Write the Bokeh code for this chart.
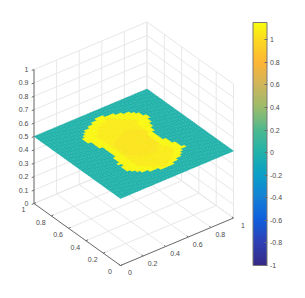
import numpy as np
from bokeh.plotting import figure
from bokeh.models import ColumnDataSource, ColorBar, FixedTicker, LinearColorMapper, Range1d
from bokeh.core.properties import value
from bokeh.embed import file_html
from bokeh.resources import INLINE

# ---- data -----------------------------------------------------------------
grid_n = 40
plane_z = 0.5
first_row = 5
# one entry per y row, column ranges [start, stop) of each colour level
outer_start = [18,15,13,12,11,10,10,10,11,10,11,11,11,12,12,12,12,12,12,11,11,11,11,10,10,10,11,12,13,15,17,19]
outer_stop  = [23,25,27,28,29,31,30,30,30,29,29,29,28,28,28,28,28,29,29,30,30,31,31,32,32,31,31,30,29,27,25,22]
mid_start   = [0,19,17,16,15,14,14,14,14,14,14,14,14,14,14,14,14,14,14,14,14,14,14,14,14,15,16,17,19,21,0,0]
mid_stop    = [0,22,24,25,26,27,27,27,27,26,26,26,26,26,26,26,26,26,26,27,27,27,27,28,28,27,26,25,24,23,0,0]
core_start  = [0,0,0,0,0,0,0,0,19,17,16,15,15,15,15,15,15,15,16,17,19,21,0,0,0,0,0,0,0,0,0,0]
core_stop   = [0,0,0,0,0,0,0,0,23,24,25,26,26,26,26,26,26,27,27,26,25,24,0,0,0,0,0,0,0,0,0,0]
level_base, level_outer, level_mid, level_core = 0.0, 1.125, 1.085, 1.04

xy_ticks = [0, 0.2, 0.4, 0.6, 0.8, 1]
xy_labels = ["0", "0.2", "0.4", "0.6", "0.8", "1"]
z_ticks = [0, .1, .2, .3, .4, .5, .6, .7, .8, .9, 1]
z_labels = ["0", "0.1", "0.2", "0.3", "0.4", "0.5", "0.6", "0.7", "0.8", "0.9", "1"]
cbar_ticks = [-1, -.8, -.6, -.4, -.2, 0, .2, .4, .6, .8, 1]
cbar_labels = ["-1", "-0.8", "-0.6", "-0.4", "-0.2", "0", "0.2", "0.4", "0.6", "0.8", "1"]
cbar_low, cbar_high = -1.0, 1.153
cmap_values = [-1, -.8, -.6, -.4, -.2, 0, .2, .4, .6, .8, 1, 1.153]
cmap_colors = ["#352A87", "#2F3FB5", "#0F5EDD", "#1480D6", "#0A9FC8", "#20B2AA", "#4DB88F", "#9ABC6C", "#CDB55C", "#FDB535", "#FCD820", "#F9FB0E"]

# ---- values grid ----------------------------------------------------------
vals = np.full((grid_n, grid_n), level_base)
for i in range(len(outer_start)):
    j = first_row + i
    vals[j, outer_start[i]:outer_stop[i]] = level_outer
    vals[j, mid_start[i]:mid_stop[i]] = level_mid
    vals[j, core_start[i]:core_stop[i]] = level_core

# ---- view projection (page pixels) ----------------------------------------
ORG = np.array([120.0, 265.0])
EX = np.array([113.0, -47.5])
EY = np.array([-86.5, -62.0])
EZ = np.array([0.0, -134.0])
def proj(x, y, z):
    x, y, z = np.asarray(x, float), np.asarray(y, float), np.asarray(z, float)
    return ORG[0] + EX[0]*x + EY[0]*y + EZ[0]*z, ORG[1] + EX[1]*x + EY[1]*y + EZ[1]*z

def rgb(h):
    return [int(h[i:i+2], 16) for i in (1, 3, 5)]
stops = np.array([rgb(s) for s in cmap_colors], float)
t = np.linspace(cbar_low, cbar_high, 128)
palette = ["#%02x%02x%02x" % tuple(int(round(np.interp(u, cmap_values, stops[:, c]))) for c in range(3)) for u in t]
mapper = LinearColorMapper(palette=palette, low=cbar_low, high=cbar_high)

p = figure(width=289, height=282, x_range=Range1d(0, 289), y_range=Range1d(282, 0),
           output_backend="svg", toolbar_location=None, min_border=0, outline_line_color=None)
p.xaxis.visible = False
p.yaxis.visible = False
p.grid.visible = False
p.background_fill_color = "white"

def seg(x0, y0, z0, x1, y1, z1, color, width=1.0):
    a = proj(x0, y0, z0)
    b = proj(x1, y1, z1)
    p.line([float(a[0]), float(b[0])], [float(a[1]), float(b[1])], line_color=color, line_width=width)

GRID = "#E8E8E8"
for v in xy_ticks:
    seg(v, 0, 0, v, 1, 0, GRID)
    seg(0, v, 0, 1, v, 0, GRID)
    seg(v, 1, 0, v, 1, 1, GRID)
    seg(1, v, 0, 1, v, 1, GRID)
for z in z_ticks:
    seg(0, 1, z, 1, 1, z, GRID)
    seg(1, 1, z, 1, 0, z, GRID)

# ---- surface --------------------------------------------------------------
xs, ys, cv = [], [], []
d = 1.0 / grid_n
for j in range(grid_n):
    for i in range(grid_n):
        px, py = proj([i*d, (i+1)*d, (i+1)*d, i*d], [j*d, j*d, (j+1)*d, (j+1)*d], [plane_z]*4)
        xs.append(px.tolist()); ys.append(py.tolist()); cv.append(float(vals[j, i]))
src = ColumnDataSource(dict(xs=xs, ys=ys, v=cv))
fc = {"field": "v", "transform": mapper}
p.patches("xs", "ys", source=src, fill_color=fc, line_color=fc, line_width=0.4)

# ---- axes -----------------------------------------------------------------
AX = "#6E6E6E"
seg(0, 0, 0, 1, 0, 0, AX)
seg(0, 0, 0, 0, 1, 0, AX)
seg(0, 1, 0, 0, 1, 1, AX)
for v in xy_ticks:
    seg(v, 0, 0, v, 0.018, 0, AX)
    seg(0, v, 0, 0.018, v, 0, AX)
for z in z_ticks:
    seg(0, 1, z, -0.02, 1, z, AX)

tx, ty, tt = [], [], []
ox, oy = proj(xy_ticks, [0]*6, [0]*6)
tx += (ox + 9.4).tolist(); ty += (oy + 7.4).tolist(); tt += xy_labels
ox, oy = proj([0]*6, xy_ticks, [0]*6)
tx += (ox - 10.5).tolist(); ty += (oy + 6.4).tolist(); tt += xy_labels
p.text(tx, ty, text=tt, text_font=value("Liberation Sans"), text_font_size="7px", text_color="#4A4A4A",
       text_align="center", text_baseline="middle")
ox, oy = proj([0]*11, [1]*11, z_ticks)
p.text((ox - 5.5).tolist(), oy.tolist(), text=z_labels, text_font=value("Liberation Sans"), text_font_size="7px",
       text_color="#4A4A4A", text_align="right", text_baseline="middle")

# ---- colour bar -----------------------------------------------------------
cb = ColorBar(color_mapper=mapper, location=(252.5, 17), width=14, height=243, padding=0, margin=0,
              ticker=FixedTicker(ticks=cbar_ticks), major_label_overrides=dict(zip(cbar_ticks, cbar_labels)),
              major_label_text_font="Liberation Sans", major_label_text_font_size="7px",
              major_label_text_color="#4A4A4A", major_tick_line_color="#6E6E6E",
              major_tick_in=3, major_tick_out=0, minor_tick_line_color=None,
              bar_line_color="#777777", bar_line_width=1, label_standoff=3, title=None,
              background_fill_color=None, border_line_color=None)
p.add_layout(cb, "center")

open("out.html", "w").write(file_html(p, INLINE))
